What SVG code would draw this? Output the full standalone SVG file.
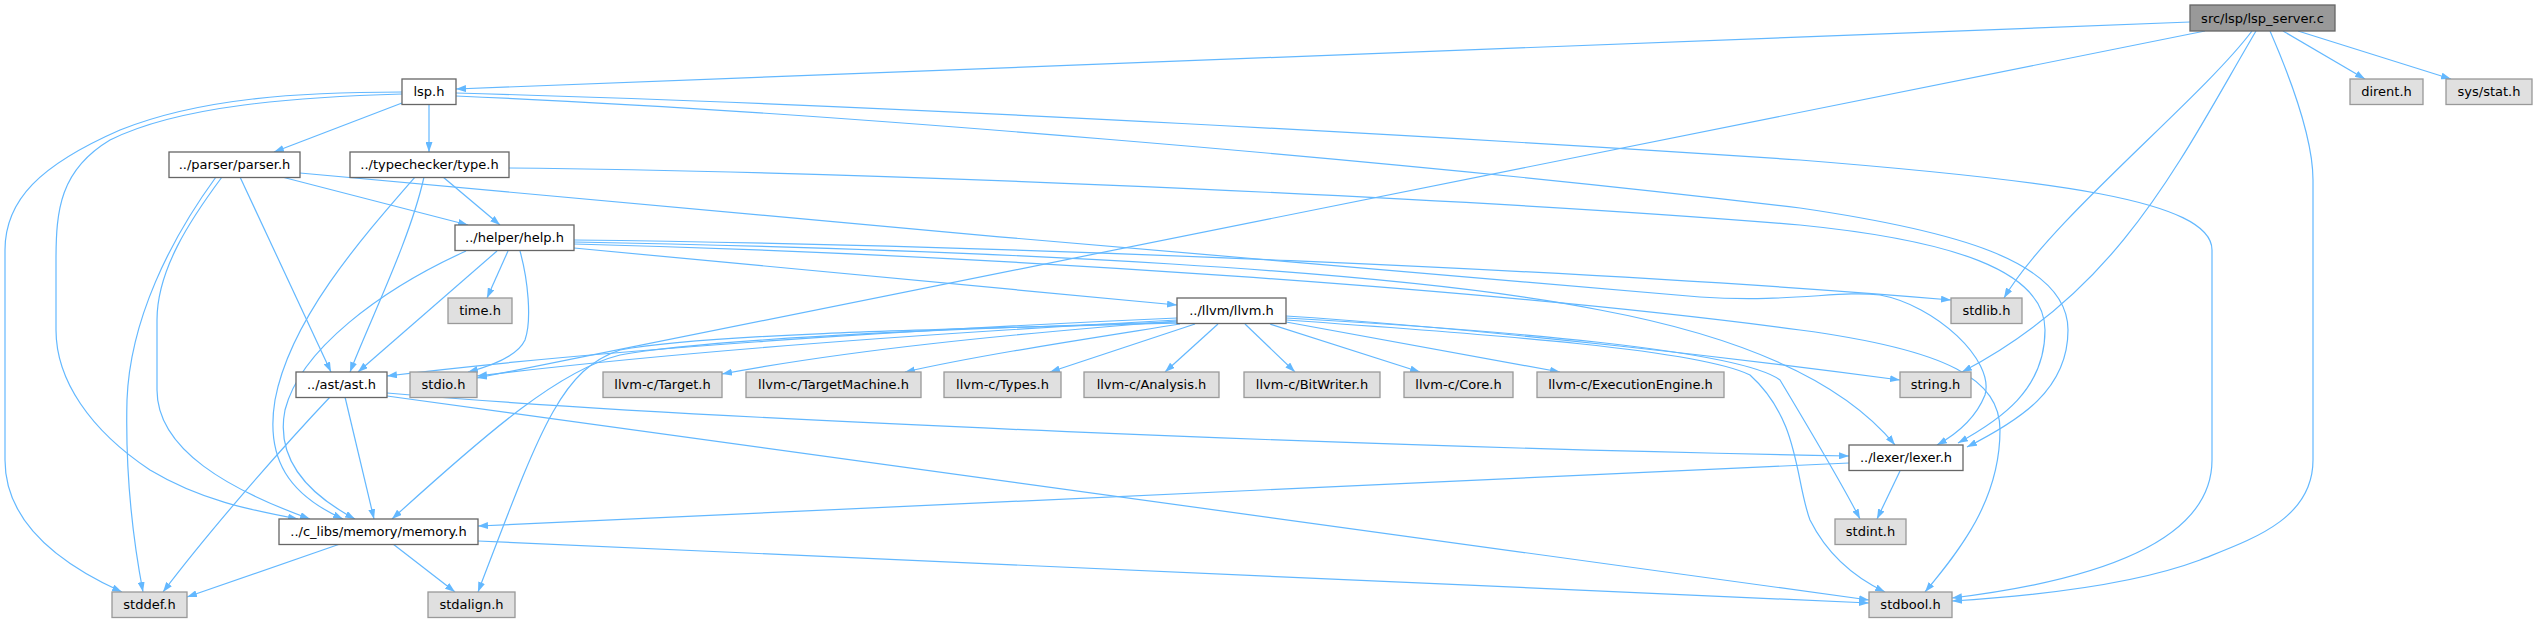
<svg xmlns="http://www.w3.org/2000/svg" width="2537" height="623" viewBox="0 0 2537 623">
<style>
.e{fill:none;stroke:#63b8ff;stroke-width:1.2;marker-end:url(#ah)}
.n rect{fill:#ffffff;stroke:#666666;stroke-width:1.3}
.g rect{fill:#e0e0e0;stroke:#999999;stroke-width:1.3}
.r rect{fill:#999999;stroke:#666666;stroke-width:1.3}
text{font-family:"DejaVu Sans","Liberation Sans",sans-serif;font-size:13px;fill:#000000;text-anchor:middle}
</style>
<defs>
<marker id="ah" viewBox="0 0 10 7" refX="10" refY="3.5" markerWidth="10" markerHeight="7" markerUnits="userSpaceOnUse" orient="auto">
<path d="M0,0 L10,3.5 L0,7 z" fill="#63b8ff"/>
</marker>
</defs>
<rect width="2537" height="623" fill="#ffffff"/>
<g id="edges">
<path class="e" d="M2190,22 L456,89"/>
<path class="e" d="M2205,31 L477,378"/>
<path class="e" d="M2252,31 C2200,100 2050,220 2004,298"/>
<path class="e" d="M2256,31 C2180,160 2120,290 1962,372"/>
<path class="e" d="M2270,31 C2300,100 2313,150 2313,180 L2313,460 C2313,520 2250,540 2200,560 C2120,590 2000,598 1952,601"/>
<path class="e" d="M2283,31 L2365,79"/>
<path class="e" d="M2298,31 L2451,79"/>
<path class="e" d="M402,103 L274,152"/>
<path class="e" d="M429,104 L429,152"/>
<path class="e" d="M402,94 C300,97 180,105 110,140 C60,170 56,210 56,260 L56,330 C56,380 90,430 150,470 C200,500 250,510 298,519"/>
<path class="e" d="M402,92 C300,92 200,98 120,130 C40,165 5,200 5,250 L5,460 C5,510 40,555 122,592"/>
<path class="e" d="M456,96 C800,110 1400,160 1800,208 C1950,230 2068,260 2068,330 C2068,390 2020,420 1967,447"/>
<path class="e" d="M456,93 C900,105 1500,140 1800,160 C2050,180 2212,200 2212,250 L2212,460 C2212,540 2100,580 1952,598"/>
<path class="e" d="M282,177 L468,225"/>
<path class="e" d="M240,177 L331,372"/>
<path class="e" d="M222,177 C190,220 157,270 157,320 L157,390 C157,450 230,490 310,519"/>
<path class="e" d="M216,177 C170,240 130,320 127,400 C125,480 135,550 143,592"/>
<path class="e" d="M300,173 C700,210 1300,265 1700,297 C1790,303 1840,290 1880,295 C1935,305 1995,360 1985,395 C1975,420 1955,435 1937,445"/>
<path class="e" d="M443,177 L500,225"/>
<path class="e" d="M424,177 C410,240 370,320 350,372"/>
<path class="e" d="M415,177 C360,240 290,320 275,400 C265,460 290,495 343,519"/>
<path class="e" d="M509,168 C900,172 1500,200 1800,225 C1950,240 2045,270 2045,330 C2045,390 2000,420 1958,443"/>
<path class="e" d="M508,251 L487,298"/>
<path class="e" d="M520,251 C528,280 532,320 525,340 C518,355 495,365 468,372"/>
<path class="e" d="M497,251 L358,372"/>
<path class="e" d="M466,251 C380,290 300,350 285,410 C275,460 310,495 355,519"/>
<path class="e" d="M574,248 L1177,305"/>
<path class="e" d="M574,240 C1000,245 1600,270 1951,300"/>
<path class="e" d="M574,242 C1000,250 1400,270 1600,310 C1760,340 1850,390 1895,445"/>
<path class="e" d="M574,244 C1000,255 1500,290 1800,330 C1950,350 2000,380 2000,430 C2000,500 1960,550 1925,592"/>
<path class="e" d="M1177,318 C900,330 600,350 387,376"/>
<path class="e" d="M1177,320 C900,335 650,355 477,376"/>
<path class="e" d="M1177,321 C1000,335 850,350 722,374"/>
<path class="e" d="M1180,324 C1080,340 980,355 905,372"/>
<path class="e" d="M1195,324 L1050,372"/>
<path class="e" d="M1218,324 L1165,372"/>
<path class="e" d="M1245,324 L1295,372"/>
<path class="e" d="M1270,324 L1420,372"/>
<path class="e" d="M1286,322 L1560,372"/>
<path class="e" d="M1286,316 C1500,330 1750,360 1900,380"/>
<path class="e" d="M1177,322 C900,330 700,340 620,355 C560,370 490,430 392,519"/>
<path class="e" d="M1177,323 C900,330 700,335 620,350 C560,370 540,430 478,592"/>
<path class="e" d="M1286,318 C1500,330 1740,350 1780,380 C1810,430 1840,480 1860,519"/>
<path class="e" d="M1286,320 C1500,335 1700,350 1750,375 C1800,420 1795,480 1810,520 C1830,560 1860,580 1885,592"/>
<path class="e" d="M345,397 L374,519"/>
<path class="e" d="M330,397 C280,450 210,530 163,592"/>
<path class="e" d="M387,393 C700,420 1400,448 1849,456"/>
<path class="e" d="M387,396 L1869,600"/>
<path class="e" d="M1849,463 L478,526"/>
<path class="e" d="M1900,471 L1877,519"/>
<path class="e" d="M340,544 L187,597"/>
<path class="e" d="M393,544 L455,592"/>
<path class="e" d="M478,541 L1869,603"/>
</g>
<g id="node-lsp_server" class="r"><rect x="2190" y="5" width="145" height="26"/><text x="2262.5" y="22.5">src/lsp/lsp_server.c</text></g>
<g id="node-lsp_h" class="n"><rect x="402" y="79" width="54" height="25.5"/><text x="429" y="96">lsp.h</text></g>
<g id="node-dirent" class="g"><rect x="2350" y="79" width="73" height="25.5"/><text x="2386.5" y="96">dirent.h</text></g>
<g id="node-sysstat" class="g"><rect x="2446" y="79" width="86" height="25.5"/><text x="2489" y="96">sys/stat.h</text></g>
<g id="node-parser" class="n"><rect x="169" y="152" width="131" height="25.5"/><text x="234.5" y="169">../parser/parser.h</text></g>
<g id="node-type" class="n"><rect x="350" y="152" width="159" height="25.5"/><text x="429.5" y="169">../typechecker/type.h</text></g>
<g id="node-help" class="n"><rect x="455" y="225" width="119" height="25.5"/><text x="514.5" y="242">../helper/help.h</text></g>
<g id="node-time" class="g"><rect x="448" y="298" width="64" height="25.5"/><text x="480" y="315">time.h</text></g>
<g id="node-llvm" class="n"><rect x="1177" y="298" width="109" height="25.5"/><text x="1231.5" y="315">../llvm/llvm.h</text></g>
<g id="node-stdlib" class="g"><rect x="1951" y="298" width="71" height="25.5"/><text x="1986.5" y="315">stdlib.h</text></g>
<g id="node-ast" class="n"><rect x="296" y="372" width="91" height="25.5"/><text x="341.5" y="389">../ast/ast.h</text></g>
<g id="node-stdio" class="g"><rect x="410" y="372" width="67" height="25.5"/><text x="443.5" y="389">stdio.h</text></g>
<g id="node-target" class="g"><rect x="603" y="372" width="119" height="25.5"/><text x="662.5" y="389">llvm-c/Target.h</text></g>
<g id="node-targetmachine" class="g"><rect x="746" y="372" width="175" height="25.5"/><text x="833.5" y="389">llvm-c/TargetMachine.h</text></g>
<g id="node-types" class="g"><rect x="944" y="372" width="117" height="25.5"/><text x="1002.5" y="389">llvm-c/Types.h</text></g>
<g id="node-analysis" class="g"><rect x="1084" y="372" width="135" height="25.5"/><text x="1151.5" y="389">llvm-c/Analysis.h</text></g>
<g id="node-bitwriter" class="g"><rect x="1244" y="372" width="136" height="25.5"/><text x="1312" y="389">llvm-c/BitWriter.h</text></g>
<g id="node-core" class="g"><rect x="1404" y="372" width="109" height="25.5"/><text x="1458.5" y="389">llvm-c/Core.h</text></g>
<g id="node-execengine" class="g"><rect x="1537" y="372" width="187" height="25.5"/><text x="1630.5" y="389">llvm-c/ExecutionEngine.h</text></g>
<g id="node-string" class="g"><rect x="1900" y="372" width="71" height="25.5"/><text x="1935.5" y="389">string.h</text></g>
<g id="node-lexer" class="n"><rect x="1849" y="445" width="114" height="25.5"/><text x="1906" y="462">../lexer/lexer.h</text></g>
<g id="node-memory" class="n"><rect x="279" y="519" width="199" height="25.5"/><text x="378.5" y="536">../c_libs/memory/memory.h</text></g>
<g id="node-stdint" class="g"><rect x="1835" y="519" width="71" height="25.5"/><text x="1870.5" y="536">stdint.h</text></g>
<g id="node-stddef" class="g"><rect x="112" y="592" width="75" height="25.5"/><text x="149.5" y="609">stddef.h</text></g>
<g id="node-stdalign" class="g"><rect x="428" y="592" width="87" height="25.5"/><text x="471.5" y="609">stdalign.h</text></g>
<g id="node-stdbool" class="g"><rect x="1869" y="592" width="83" height="25.5"/><text x="1910.5" y="609">stdbool.h</text></g>
</svg>
